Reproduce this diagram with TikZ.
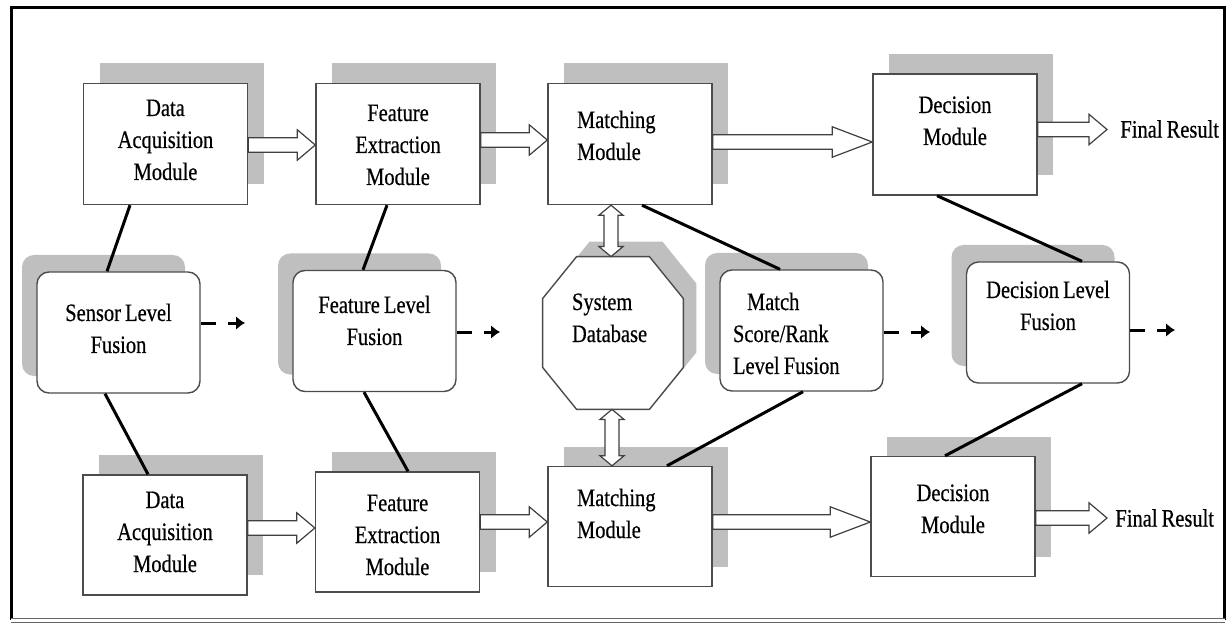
\documentclass[tikz,border=0pt]{standalone}
\usepackage{fontspec}
\newfontfamily\figfont[FakeStretch=0.82,FakeBold=0.5,WordSpace=0.8]{Liberation Serif}
\usetikzlibrary{calc,shadows,arrows.meta,backgrounds}

\newcommand{\octpath}[1]{([xshift=17pt]#1.north west) -- ([xshift=-17pt]#1.north east)
  -- ([yshift=-21pt]#1.north east) -- ([yshift=21pt]#1.south east)
  -- ([xshift=-17pt]#1.south east) -- ([xshift=17pt]#1.south west)
  -- ([yshift=21pt]#1.south west) -- ([yshift=-21pt]#1.north west) -- cycle}

\tikzset{
  every node/.style={font=\figfont\fontsize{12.5}{16}\selectfont},
  basebox/.style={draw=black!70, line width=0.7pt, fill=white, inner sep=0pt,
    text height=0pt, text width=76pt, align=flush center},
  modbox/.style={basebox, minimum width=82pt, minimum height=60.5pt,
    general shadow={shadow xshift=8pt, shadow yshift=10pt, fill=black!25}},
  fusebox/.style={basebox, rounded corners=6pt, minimum width=81.5pt, minimum height=60.5pt,
    general shadow={shadow xshift=-7.5pt, shadow yshift=8.5pt, fill=black!25}},
  dbbox/.style={inner sep=0pt, text height=0pt, minimum width=70pt, minimum height=76pt},
  link/.style={line width=1.5pt},
  fusearrow/.style={line width=1.5pt, dash pattern=on 7.5pt off 6pt,
    -{Latex[length=4.5pt,width=7pt]}},
  hollow/.style={draw=black!75, fill=white, line width=0.6pt,
    to path={let \p1=(\tikztostart), \p2=(\tikztotarget) in
      (\x1,\y1+3.6pt) -- (\x2-#1,\y1+3.6pt) -- (\x2-#1,\y1+7.6pt) -- (\x2,\y1)
      -- (\x2-#1,\y1-7.6pt) -- (\x2-#1,\y1-3.6pt) -- (\x1,\y1-3.6pt) -- cycle}},
  hollow/.default=9pt,
  hollowv/.style={draw=black!75, fill=white, line width=0.6pt,
    to path={let \p1=(\tikztostart), \p2=(\tikztotarget) in
      (\x1,\y1) -- (\x1+6pt,\y1-5pt) -- (\x1+3.5pt,\y1-5pt) -- (\x1+3.5pt,\y2+5pt)
      -- (\x1+6pt,\y2+5pt) -- (\x1,\y2) -- (\x1-6pt,\y2+5pt) -- (\x1-3.5pt,\y2+5pt)
      -- (\x1-3.5pt,\y1-5pt) -- (\x1-6pt,\y1-5pt) -- cycle}}
}

\begin{document}
\begin{tikzpicture}[x=0.5pt,y=-0.5pt]
\useasboundingbox (0,0) rectangle (1229,625);
\draw[line width=1.5pt] (11.5,620) -- (11.5,7.5) -- (1224.5,7.5) -- (1224.5,620);
\draw[black!60, double, line width=0.6pt, double distance=1.5pt] (11,620.5) -- (1225,620.5);

\node[modbox, text depth=28pt] (da1) at (165.5,144) {Data\\Acquisition\\Module};
\node[modbox, text depth=23pt] (fe1) at (398,144) {Feature\\Extraction\\Module};
\node[modbox, text depth=16pt, align=flush left, text width=53pt] (mm1) at (630,144) {Matching\\Module};
\node[modbox, text depth=21.5pt] (dm1) at (955,134.5) {Decision\\Module};
\node[anchor=west, inner sep=0pt] (res1) at (1120,129) {Final Result};

\node[fusebox, text depth=11.5pt] (slf) at (118.5,332.5) {Sensor Level\\Fusion};
\node[fusebox, text depth=18pt] (flf) at (374.5,331) {Feature Level\\Fusion};
\node[dbbox, text depth=23pt, align=flush left, text width=41pt] (db) at (613,333) {System\\Database};
\node[fusebox, text depth=20.5pt, align=flush left, text width=68.5pt] (msr) at (801.5,330.5) {\hspace*{7pt}Match\\Score/Rank\\Level Fusion};
\node[fusebox, text depth=24.5pt] (dlf) at (1048,322.5) {Decision Level\\Fusion};

\node[modbox, minimum height=60pt, text depth=27pt] (da2) at (165,535) {Data\\Acquisition\\Module};
\node[modbox, minimum height=60pt, text depth=21pt] (fe2) at (397.5,532) {Feature\\Extraction\\Module};
\node[modbox, minimum height=60pt, text depth=20.5pt, align=flush left, text width=53pt] (mm2) at (630,526.5) {Matching\\Module};
\node[modbox, minimum height=60pt, text depth=15.5pt] (dm2) at (953,516.5) {Decision\\Module};
\node[anchor=west, inner sep=0pt] (res2) at (1115,518) {Final Result};

\begin{scope}[on background layer]
\fill[black!25, transform canvas={shift={(6.5pt,7.5pt)}}] \octpath{db};
\filldraw[fill=white, draw=black!70, line width=0.7pt] \octpath{db};
\end{scope}

\coordinate (slfout) at (245,323);
\coordinate (flfout) at (500,332);
\coordinate (msrout) at (930,332);
\coordinate (dlfout) at (1175,330);

\draw[hollow] ([yshift=-0.5pt]da1.east) to (fe1.west);
\draw[hollow] ([yshift=2pt]fe1.east) to (mm1.west);
\draw[hollow=20pt] ([yshift=1pt]mm1.east) to (dm1.west);
\draw[hollow] ([yshift=2.5pt]dm1.east) to ([xshift=-6.5pt]res1.west);
\draw[hollow] ([yshift=3.5pt]da2.east) to (fe2.west);
\draw[hollow] ([yshift=5pt]fe2.east) to (mm2.west);
\draw[hollow=20pt] ([yshift=2.25pt]mm2.east) to (dm2.west);
\draw[hollow] ([yshift=-0.75pt]dm2.east) to ([xshift=-4pt]res2.west);

\draw[hollowv] ([xshift=-9.5pt]mm1.south) to ([xshift=-9.5pt]mm1.south |- db.north);
\draw[hollowv] ([xshift=-0.5pt]db.south) to ([xshift=-0.5pt]db.south |- mm2.north);

\draw[link] ([xshift=-17.75pt]da1.south) -- ([xshift=-5.75pt]slf.north);
\draw[link] ([xshift=-5.5pt]fe1.south) -- ([xshift=-5.75pt]flf.north);
\draw[link] ([xshift=6pt]mm1.south) -- ([xshift=-10.75pt]msr.north);
\draw[link] ([xshift=-9pt]dm1.south) -- ([xshift=17pt]dlf.north);
\draw[link] ([xshift=-6.75pt]slf.south) -- ([xshift=-8.5pt]da2.north);
\draw[link] ([xshift=-5.25pt]flf.south) -- ([xshift=5.25pt]fe2.north);
\draw[link] ([xshift=0.75pt]msr.south) -- ([xshift=18.5pt]mm2.north);
\draw[link] ([xshift=17pt]dlf.south) -- ([xshift=-4pt]dm2.north);

\draw[fusearrow] (slf.east |- slfout) -- (slfout);
\draw[fusearrow] (flf.east |- flfout) -- (flfout);
\draw[fusearrow] (msr.east |- msrout) -- (msrout);
\draw[fusearrow] (dlf.east |- dlfout) -- (dlfout);
\end{tikzpicture}
\end{document}
